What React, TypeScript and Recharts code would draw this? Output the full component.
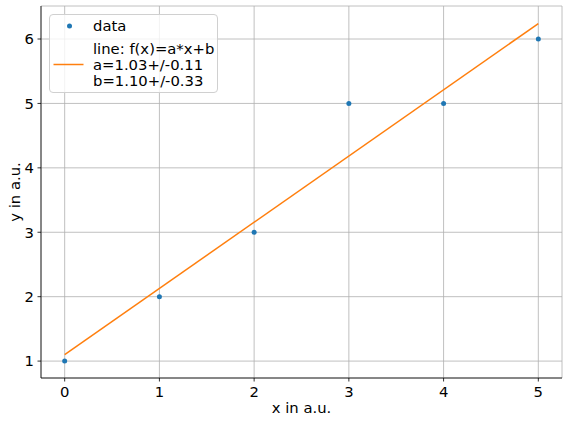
import {
  ComposedChart,
  Line,
  XAxis,
  YAxis,
  CartesianGrid,
  Legend,
} from "recharts";

const xValues = [0, 1, 2, 3, 4, 5];
const yValues = [1, 2, 3, 5, 5, 6];
const fitX = [0, 5];
const fitY = [1.1, 6.24];
const xTicks = [0, 1, 2, 3, 4, 5];
const yTicks = [1, 2, 3, 4, 5, 6];
const fitLabel = ["line: f(x)=a*x+b", "a=1.03+/-0.11", "b=1.10+/-0.33"];

const BLUE = "#1f77b4";
const ORANGE = "#ff7f0e";
const FONT = "DejaVu Sans, sans-serif";
const FS = 14.8;

const points = xValues.map((x, i) => ({ x, y: yValues[i] }));
const fitLine = fitX.map((x, i) => ({ x, fit: fitY[i] }));

const textRow = (top: number): React.CSSProperties => ({
  position: "absolute",
  left: 43,
  top,
  lineHeight: "16px",
  whiteSpace: "nowrap",
  textAlign: "left",
});

const renderLegend = () => (
  <div
    style={{
      width: 169,
      height: 79,
      boxSizing: "border-box",
      border: "1px solid #d0d0d0",
      borderRadius: 4,
      background: "rgba(255,255,255,0.8)",
      fontFamily: FONT,
      fontSize: FS,
      color: "#000",
      position: "relative",
      textAlign: "left",
    }}
  >
    <svg width={40} height={79} style={{ position: "absolute", left: 0, top: 0 }}>
      <circle cx={19.5} cy={11} r={2.5} fill={BLUE} />
      <line x1={3.5} x2={33.5} y1={49.5} y2={49.5} stroke={ORANGE} strokeWidth={1.5} />
    </svg>
    <div style={textRow(3)}>data</div>
    {fitLabel.map((t, i) => (
      <div key={t} style={textRow(26 + i * 16)}>
        {t}
      </div>
    ))}
  </div>
);

const YLabel = (props: any) => {
  const vb = props.viewBox;
  const cy = vb.y + vb.height / 2;
  return (
    <text
      x={14}
      y={cy}
      transform={`rotate(-90 14 ${cy})`}
      textAnchor="middle"
      dominantBaseline="central"
      fontFamily={FONT}
      fontSize={FS}
      fill="#000"
    >
      y in a.u.
    </text>
  );
};

const XLabel = (props: any) => {
  const vb = props.viewBox;
  return (
    <text
      x={vb.x + vb.width / 2}
      y={413}
      textAnchor="middle"
      fontFamily={FONT}
      fontSize={FS}
      fill="#000"
    >
      x in a.u.
    </text>
  );
};

export default function App() {
  const tickStyle = { fill: "#000", fontSize: FS, fontFamily: FONT };
  return (
    <div style={{ width: 568, height: 424, background: "#fff" }}>
      <style>{`body{margin:0}`}</style>
      <ComposedChart
        width={568}
        height={424}
        margin={{ top: 6, right: 6, bottom: 0, left: 0 }}
      >
        <CartesianGrid stroke="#b0b0b0" strokeWidth={0.8} />
        <XAxis
          type="number"
          dataKey="x"
          domain={[-0.25, 5.25]}
          ticks={xTicks}
          height={46}
          tick={tickStyle}
          tickSize={3.5}
          tickMargin={5}
          axisLine={{ stroke: "#000", strokeWidth: 0.8 }}
          tickLine={{ stroke: "#000", strokeWidth: 0.8 }}
          allowDataOverflow
          label={<XLabel />}
        />
        <YAxis
          type="number"
          domain={[0.7375, 6.5125]}
          ticks={yTicks}
          width={41}
          tick={tickStyle}
          tickSize={3.5}
          tickMargin={3.5}
          axisLine={{ stroke: "#000", strokeWidth: 0.8 }}
          tickLine={{ stroke: "#000", strokeWidth: 0.8 }}
          allowDataOverflow
          label={<YLabel />}
        />
        <XAxis
          xAxisId="top"
          orientation="top"
          type="number"
          domain={[0, 1]}
          height={0}
          tick={false}
          tickLine={false}
          axisLine={{ stroke: "#000", strokeWidth: 0.8 }}
        />
        <YAxis
          yAxisId="right"
          orientation="right"
          type="number"
          domain={[0, 1]}
          width={0}
          tick={false}
          tickLine={false}
          axisLine={{ stroke: "#000", strokeWidth: 0.8 }}
        />
        <Line
          data={points}
          dataKey="y"
          stroke="none"
          dot={{ r: 2.5, fill: BLUE, stroke: "none" }}
          activeDot={false}
          isAnimationActive={false}
        />
        <Line
          data={fitLine}
          dataKey="fit"
          type="linear"
          stroke={ORANGE}
          strokeWidth={1.5}
          dot={false}
          activeDot={false}
          isAnimationActive={false}
        />
        <Legend
          layout="vertical"
          align="center"
          verticalAlign="middle"
          content={renderLegend}
          wrapperStyle={{ position: "absolute", left: 49, top: 14, width: 169 }}
        />
      </ComposedChart>
    </div>
  );
}
